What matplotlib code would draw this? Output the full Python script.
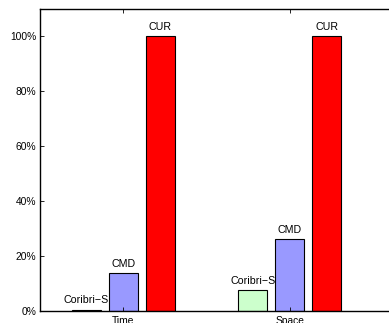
import numpy as np
import matplotlib.pyplot as plt

plt.rcParams['font.family'] = ['Liberation Sans', 'DejaVu Sans']

groups = ['Time', 'Space']
series = ['Coribri\u2212S', 'CMD', 'CUR']
values = {
    'Coribri\u2212S': [0.005, 0.076],
    'CMD': [0.137, 0.261],
    'CUR': [1.0, 1.0],
}
colors = ['#ccffcc', '#9999ff', '#ff0000']

fig = plt.figure(figsize=(3.89, 3.23), dpi=100)
ax = fig.add_axes([40 / 389, 12 / 323, 1.06 - 40 / 389, 302 / 323])

x = np.arange(1, len(groups) + 1)
step = 0.222
width = 0.175
for i, name in enumerate(series):
    pos = x + (i - 1) * step
    vals = values[name]
    ax.bar(pos, vals, width=width, color=colors[i], edgecolor='black', linewidth=0.8)
    for px, v in zip(pos, vals):
        ax.annotate(name, (px, v), xytext=(0, 3), textcoords='offset points',
                    ha='center', va='bottom', fontsize=7.7)

ax.set_xlim(0.5, 0.5 + (1.06 * 389 - 40) / 166.5)
ax.set_ylim(0, 1.1)
ax.set_xticks(x)
ax.set_xticklabels(groups, fontsize=7.4)
ax.set_yticks(np.arange(0, 1.01, 0.2))
ax.set_yticklabels(['%d%%' % round(t * 100) for t in np.arange(0, 1.01, 0.2)], fontsize=7.4)
ax.tick_params(direction='in', length=3, width=0.6, top=True, right=False, pad=2.5)
ax.tick_params(axis='x', pad=3.5)
for s in ['left', 'bottom', 'top']:
    ax.spines[s].set_linewidth(1.0)
ax.spines['right'].set_visible(False)

fig.savefig('out.png', dpi=100)
